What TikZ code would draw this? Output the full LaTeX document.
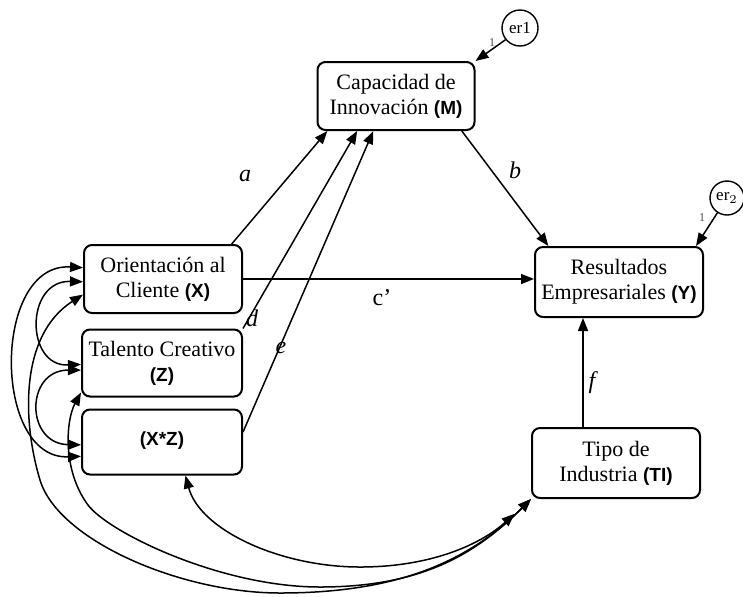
\documentclass[tikz,border=0pt]{standalone}
\usepackage{fontspec}
\setmainfont{Liberation Serif}
\setsansfont{Liberation Sans}
\usepackage{tikz}
\usetikzlibrary{arrows.meta, positioning, calc}
\tikzstyle{var} = [rectangle, rounded corners=4pt, draw, line width=1pt, inner sep=0pt, text centered, align=center, font=\fontsize{11}{12.5}\selectfont]
\tikzstyle{err} = [circle, draw, line width=0.7pt, inner sep=0pt, font=\fontsize{8.5}{8.5}\selectfont]
\tikzstyle{arrow} = [line width=0.75pt, -{Triangle[length=6.5pt,width=5pt]}]
\tikzstyle{cov} = [line width=0.75pt, {Triangle[length=6.5pt,width=5pt]}-{Triangle[length=6.5pt,width=5pt]}]
\tikzstyle{coef} = [font=\fontsize{12}{12}\selectfont\itshape]
\tikzstyle{one} = [font=\fontsize{6}{6}\selectfont, text=black!70]
\newcommand{\vtag}[1]{{\sffamily\bfseries\fontsize{9.5}{10}\selectfont(#1)}}

\begin{document}
\begin{tikzpicture}[x=0.5pt, y=-0.5pt]
    \useasboundingbox (0,0) rectangle (743,596);

    \node (M) [var, minimum width=78.5pt, minimum height=34pt] at (396,96) {Capacidad de\\Innovación \vtag{M}};
    \node (X) [var, minimum width=79pt, minimum height=34pt] at (163,279) {Orientación al\\Cliente \vtag{X}};
    \node (Z) [var, minimum width=80pt, minimum height=33.5pt] at (162,363) {Talento Creativo\\\vtag{Z}};
    \node (XZ) [var, minimum width=80pt, minimum height=32.5pt] at (162,442) {\raisebox{3pt}{\vtag{X*Z}}};
    \node (Y) [var, minimum width=84pt, minimum height=35pt] at (619,282) {Resultados\\Empresariales \vtag{Y}};
    \node (TI) [var, minimum width=84pt, minimum height=35pt] at (616,463) {Tipo de\\Industria \vtag{TI}};
    \node (er1) [err, minimum size=18pt] at (520,28) {er1};
    \node (er2) [err, minimum size=17pt] at (727,198) {er$_2$};

    % paths
    \draw[arrow] (X.27) -- (M.207);
    \draw[arrow] (Z.north east) -- (M.222);
    \draw[arrow] (XZ.7) -- (M.237);
    \draw[arrow] (M.332) -- (Y.153);
    \draw[arrow] (X.east) -- (X.east -| Y.west);
    \draw[arrow] ([xshift=-16.5pt]TI.north) -- ([xshift=-16.5pt]TI.north |- Y.south);
    \draw[arrow] (er1.219) -- (M.north east);
    \draw[arrow] (er2.237) -- ([xshift=-4pt]Y.north east);

    % covariances
    \draw[cov] (X.172) .. controls (-8,262) and (-8,460) .. (XZ.190);
    \draw[cov] (X.182) .. controls (25,280) and (25,367) .. (Z.181);
    \draw[cov] (Z.185) .. controls (25,370) and (25,444) .. (XZ.182);
    \draw[cov] (X.191) .. controls (20,335) and (22,420) .. (40,480)
        .. controls (58,540) and (180,593) .. (280,593)
        .. controls (400,593) and (470,560) .. (TI.south west);
    \draw[cov] (Z.200) .. controls (66,420) and (62,470) .. (88,505)
        .. controls (108,532) and (220,587) .. (320,587)
        .. controls (420,587) and (475,555) .. (TI.south west);
    \draw[cov, shorten >=11pt] (XZ.305) .. controls (200,530) and (280,567) .. (360,567)
        .. controls (430,567) and (480,545) .. (TI.south west);

    % coefficients
    \node (la) [coef] at (245,176) {a};
    \node (lb) [coef] at (515,170) {b};
    \node (lc) [coef, font=\fontsize{12}{12}\selectfont] at (382,298) {c’};
    \node (ld) [coef] at (252,318) {d};
    \node (le) [coef] at (281,348) {e};
    \node (lf) [coef] at (592,383) {f};
    \node (l1) [one] at (492,43) {1};
    \node (l2) [one] at (702,218) {1};
\end{tikzpicture}
\end{document}
